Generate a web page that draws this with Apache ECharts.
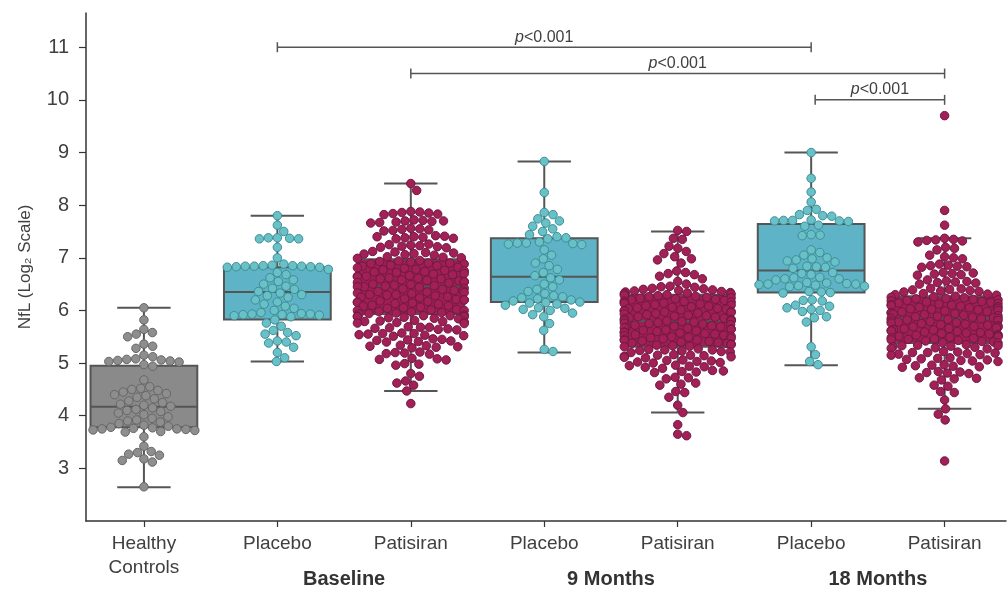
<!DOCTYPE html>
<html><head><meta charset="utf-8">
<script src="https://cdn.jsdelivr.net/npm/echarts@6/dist/echarts.min.js"></script>
<style>html,body{margin:0;padding:0;background:#fff}#c{width:1007px;height:590px}</style>
</head><body><div id="c"></div>
<script>
const categories = ['Healthy\nControls','Placebo','Patisiran','Placebo','Patisiran','Placebo','Patisiran'];
const groupLabels = ['Baseline','9 Months','18 Months'];
const groupCenters = [1.5, 3.5, 5.5];
const yTicks = [3,4,5,6,7,8,9,10,11];
const pText = 'p<0.001';
// [lower whisker, Q1, median, Q3, upper whisker]
const boxStats = [
 [2.64,3.78,4.17,4.95,6.05],
 [5.03,5.83,6.35,6.82,7.80],
 [4.47,5.93,6.45,6.97,8.41],
 [5.20,6.16,6.64,7.37,8.83],
 [4.06,5.31,5.80,6.30,7.50],
 [4.96,6.34,6.76,7.64,9.00],
 [4.13,5.38,5.85,6.27,7.37]
];
// [from category, to category, y level]
const brackets = [[1,5,11.0],[2,6,10.5],[5.03,6,10.0]];

const healthyControls = [6.05,5.82,5.64,5.58,5.55,5.5,5.36,5.32,5.28,5.15,5.12,5.08,5.07,5.06,5.05,5.04,5.03,5.02,4.97,4.94,4.68,4.55,4.52,4.5,4.48,4.45,4.42,4.4,4.38,4.35,4.32,4.28,4.25,4.22,4.2,4.18,4.15,4.12,4.1,4.08,4.05,4.02,3.98,3.95,3.92,3.9,3.88,3.85,3.82,3.8,3.78,3.77,3.76,3.75,3.75,3.74,3.73,3.72,3.7,3.69,3.6,3.42,3.32,3.3,3.27,3.25,3.18,3.15,3.12,2.65];
const baselinePlacebo = [7.8,7.62,7.5,7.38,7.38,7.37,7.36,7.36,7.2,7.0,6.88,6.86,6.85,6.85,6.84,6.84,6.84,6.83,6.83,6.82,6.82,6.78,6.72,6.68,6.62,6.58,6.55,6.5,6.46,6.42,6.4,6.36,6.33,6.3,6.28,6.25,6.2,6.16,6.12,6.08,6.04,6.0,5.96,5.94,5.93,5.93,5.92,5.92,5.91,5.9,5.88,5.82,5.76,5.7,5.62,5.58,5.55,5.52,5.42,5.4,5.38,5.3,5.2,5.1,5.03];
const baselinePatisiran = [8.41,8.28,7.88,7.87,7.86,7.85,7.84,7.83,7.82,7.72,7.71,7.7,7.7,7.69,7.68,7.67,7.66,7.56,7.55,7.54,7.53,7.52,7.51,7.42,7.41,7.4,7.4,7.39,7.38,7.37,7.36,7.26,7.25,7.24,7.23,7.22,7.21,7.2,7.19,7.12,7.11,7.1,7.09,7.08,7.07,7.06,7.05,7.02,7.01,7.0,6.99,
 6.95,6.94,6.93,6.92,6.9,6.9,6.89,6.88,6.86,6.85,6.84,6.82,6.81,6.8,6.78,6.77,6.76,6.75,6.74,6.73,6.72,6.7,6.69,6.68,6.66,6.65,6.65,6.64,6.62,6.61,6.6,6.6,6.58,6.57,6.56,6.55,6.54,6.53,6.52,6.5,6.49,6.48,6.47,6.46,6.45,6.45,6.44,6.42,6.41,6.4,6.38,6.37,6.36,6.35,6.34,6.33,6.32,6.3,6.3,6.29,6.28,6.26,6.25,6.24,6.22,6.21,6.2,6.2,6.18,6.17,6.16,6.15,6.14,6.13,6.12,6.1,6.09,6.08,6.06,6.05,6.04,6.02,6.01,6.0,6.0,5.98,5.97,5.96,5.95,5.94,5.93,
 5.91,5.9,5.9,5.89,5.88,5.88,5.87,5.86,5.85,5.84,5.81,5.8,5.79,5.79,5.78,5.77,5.76,5.75,5.69,5.68,5.68,5.67,5.66,5.65,5.64,5.63,5.57,5.56,5.56,5.55,5.54,5.53,5.52,5.51,5.46,5.45,5.44,5.43,5.42,5.41,5.4,5.34,5.33,5.32,5.31,5.3,5.29,5.21,5.2,5.19,5.18,5.17,5.09,5.08,5.07,5.06,4.99,4.98,4.96,4.8,4.75,4.66,4.62,4.58,4.47,4.23];
const m9Placebo = [8.83,8.24,7.86,7.82,7.74,7.7,7.66,7.6,7.55,7.5,7.44,7.4,7.38,7.36,7.3,7.28,7.28,7.27,7.26,7.25,7.15,7.05,6.98,6.9,6.85,6.78,6.72,6.66,6.62,6.58,6.5,6.45,6.4,6.36,6.32,6.28,6.26,6.24,6.22,6.2,6.18,6.16,6.15,6.14,6.12,6.1,6.05,6.04,6.02,6.0,5.95,5.92,5.88,5.75,5.62,5.26,5.22];
const m9Patisiran = [7.52,7.5,7.37,7.35,7.22,7.18,7.12,7.08,7.02,6.98,6.96,6.9,6.75,6.72,6.7,6.68,6.65,6.6,6.55,6.5,6.46,6.45,6.44,6.42,6.41,6.4,6.39,6.38,6.37,6.36,6.35,6.34,6.33,6.32,6.31,
 6.3,6.29,6.28,6.27,6.26,6.25,6.24,6.23,6.22,6.21,6.2,6.19,6.18,6.17,6.16,6.15,6.14,6.13,6.12,6.11,6.1,6.09,6.08,6.07,6.06,6.05,6.04,6.03,6.02,6.01,6.0,5.99,5.98,5.97,5.96,5.95,5.94,5.93,5.92,5.91,5.9,5.89,5.88,5.87,5.86,5.85,5.84,5.83,5.82,5.81,5.8,5.8,5.79,5.78,5.77,5.76,5.75,5.74,5.73,5.72,5.71,5.7,5.69,5.68,5.67,5.66,5.65,5.64,5.63,5.62,5.61,5.6,5.59,5.58,5.57,5.56,5.55,5.54,5.53,5.52,5.51,5.5,5.49,5.48,5.47,5.46,5.45,5.44,5.43,5.42,5.41,5.4,5.39,5.38,5.37,5.36,5.35,5.34,5.33,5.32,5.31,
 5.27,5.26,5.25,5.25,5.24,5.23,5.22,5.21,5.2,5.16,5.15,5.15,5.14,5.13,5.12,5.11,5.1,5.06,5.05,5.04,5.03,5.02,5.01,5.0,4.96,4.95,4.94,4.93,4.92,4.9,4.86,4.85,4.84,4.83,4.82,4.73,4.72,4.7,4.62,4.6,4.58,4.46,4.44,4.35,4.2,4.06,3.83,3.65,3.62];
const m18Placebo = [9.0,8.51,8.25,8.06,7.92,7.9,7.82,7.8,7.79,7.72,7.71,7.71,7.7,7.7,7.69,7.62,7.6,7.44,7.43,7.42,7.15,7.1,7.05,7.0,6.98,6.96,6.94,6.92,6.84,6.83,6.82,6.8,6.72,6.7,6.68,6.63,6.62,6.6,6.6,6.58,6.53,6.52,6.51,6.5,6.5,6.49,6.48,6.47,6.46,6.45,6.36,6.35,6.34,6.33,6.2,6.19,6.18,6.1,6.08,6.05,6.02,6.0,5.98,5.88,5.86,5.78,5.31,5.16,5.03,4.97];
const m18Patisiran = [9.7,7.9,7.62,7.37,7.35,7.34,7.33,7.32,7.3,7.2,7.18,7.15,7.05,7.02,7.0,6.98,6.88,6.86,6.85,6.84,6.83,6.82,6.72,6.71,6.7,6.69,6.68,6.67,6.58,6.56,6.55,6.54,6.53,6.52,6.5,6.42,6.41,6.4,6.39,6.38,6.37,6.36,6.35,6.32,6.31,6.3,6.29,
 6.27,6.26,6.25,6.24,6.23,6.22,6.21,6.2,6.19,6.18,6.17,6.16,6.15,6.14,6.13,6.12,6.11,6.1,6.09,6.08,6.07,6.06,6.05,6.04,6.03,6.02,6.01,6.0,5.99,5.98,5.97,5.96,5.95,5.94,5.93,5.92,5.91,5.9,5.89,5.88,5.87,5.86,5.85,5.85,5.84,5.83,5.82,5.81,5.8,5.79,5.78,5.77,5.76,5.75,5.74,5.73,5.72,5.71,5.7,5.69,5.68,5.67,5.66,5.65,5.64,5.63,5.62,5.61,5.6,5.59,5.58,5.57,5.56,5.55,5.54,5.53,5.52,5.51,5.5,5.49,5.48,5.47,5.46,5.45,5.44,5.43,5.42,5.41,5.4,5.39,5.38,
 5.35,5.34,5.33,5.33,5.32,5.31,5.3,5.29,5.28,5.27,5.22,5.21,5.2,5.2,5.19,5.18,5.17,5.16,5.15,5.1,5.09,5.08,5.07,5.06,5.05,5.04,5.03,4.97,4.96,4.95,4.94,4.93,4.92,4.84,4.83,4.82,4.81,4.8,4.72,4.71,4.7,4.68,4.58,4.56,4.46,4.44,4.3,4.13,4.03,3.92,3.14];

const groupValues = [healthyControls, baselinePlacebo, baselinePatisiran, m9Placebo, m9Patisiran, m18Placebo, m18Patisiran];

// styles
const FONT = '"Liberation Sans", Arial, sans-serif';
const boxFill = ['#8a8a8a','#5eb3c6','#9e1f55','#5eb3c6','#9e1f55','#5eb3c6','#9e1f55'];
const ptFill = ['#8e8e8e','#69c1c8','#a21f57','#69c1c8','#a21f57','#69c1c8','#a21f57'];
const ptEdge = ['#666666','#3f8d97','#6f1a3f','#3f8d97','#6f1a3f','#3f8d97','#6f1a3f'];
const lineCol = '#555555';
const textCol = '#404040';

const chart = echarts.init(document.getElementById('c'), null, {renderer:'canvas'});

function renderBox(params, api){
  const i = params.dataIndex;
  const x = api.value(0);
  const lo=api.value(1), q1=api.value(2), med=api.value(3), q3=api.value(4), hi=api.value(5);
  const bw = api.size([1,0])[0];
  const half = bw*0.4, wh = bw*0.2;
  const pLo=api.coord([x,lo]), pQ1=api.coord([x,q1]), pMed=api.coord([x,med]), pQ3=api.coord([x,q3]), pHi=api.coord([x,hi]);
  const cx = pLo[0];
  const ls = {stroke:lineCol, lineWidth:2};
  return {type:'group', children:[
    {type:'line', shape:{x1:cx,y1:pHi[1],x2:cx,y2:pQ3[1]}, style:ls},
    {type:'line', shape:{x1:cx,y1:pQ1[1],x2:cx,y2:pLo[1]}, style:ls},
    {type:'line', shape:{x1:cx-wh,y1:pHi[1],x2:cx+wh,y2:pHi[1]}, style:ls},
    {type:'line', shape:{x1:cx-wh,y1:pLo[1],x2:cx+wh,y2:pLo[1]}, style:ls},
    {type:'rect', shape:{x:cx-half,y:pQ3[1],width:2*half,height:pQ1[1]-pQ3[1]}, style:{fill:boxFill[i], stroke:lineCol, lineWidth:2}},
    {type:'line', shape:{x1:cx-half,y1:pMed[1],x2:cx+half,y2:pMed[1]}, style:ls}
  ]};
}
function renderBracket(params, api){
  const y = api.value(2);
  const a = api.coord([api.value(0), y]), b = api.coord([api.value(1), y]);
  const s = {stroke:lineCol, lineWidth:1.5};
  return {type:'group', children:[
    {type:'line', shape:{x1:a[0],y1:a[1],x2:b[0],y2:b[1]}, style:s},
    {type:'line', shape:{x1:a[0],y1:a[1]-5,x2:a[0],y2:a[1]+5}, style:s},
    {type:'line', shape:{x1:b[0],y1:b[1]-5,x2:b[0],y2:b[1]+5}, style:s},
    {type:'text', x:(a[0]+b[0])/2, y:a[1]-2, style:{
      text:'{i|'+pText.charAt(0)+'}{n|'+pText.slice(1)+'}',
      align:'center', verticalAlign:'bottom',
      rich:{i:{fontStyle:'italic',fontSize:16,fontFamily:FONT,fill:textCol}, n:{fontSize:16,fontFamily:FONT,fill:textCol}}
    }}
  ]};
}

const xMin = -0.434, xMax = 6.46;
const option = {
  animation:false,
  backgroundColor:'#fff',
  grid:{left:86, right:1, top:13, bottom:69, containLabel:false},
  xAxis:[{
    type:'value', min:xMin, max:xMax,
    axisLine:{show:true, onZero:false, lineStyle:{color:'#333', width:1.5}},
    splitLine:{show:false},
    axisTick:{show:true, customValues:[0,1,2,3,4,5,6], length:6, lineStyle:{color:'#333', width:1.2}},
    axisLabel:{customValues:[0,1,2,3,4,5,6], formatter:v=>categories[Math.round(v)], fontSize:19, color:textCol, fontFamily:FONT, margin:11, lineHeight:24}
  },{
    type:'value', min:xMin, max:xMax, position:'bottom', offset:40,
    axisLine:{show:false, onZero:false}, axisTick:{show:false}, splitLine:{show:false},
    axisLabel:{customValues:groupCenters, formatter:v=>groupLabels[Math.round((v-1.5)/2)], fontSize:20, fontWeight:'bold', color:'#333', fontFamily:'"Liberation Sans Narrow", "Liberation Sans", Arial, sans-serif', margin:8}
  }],
  yAxis:{
    type:'value', min:2, max:11.65,
    axisLine:{show:true, onZero:false, lineStyle:{color:'#333', width:1.5}},
    splitLine:{show:false},
    axisTick:{show:true, customValues:yTicks, length:7, lineStyle:{color:'#333', width:1.2}},
    axisLabel:{customValues:yTicks, fontSize:20, color:textCol, fontFamily:FONT, margin:17},
    name:'NfL (Log₂ Scale)', nameLocation:'middle', nameGap:52, nameRotate:90,
    nameTextStyle:{fontSize:17, color:textCol, fontFamily:FONT}
  },
  series:[
    {type:'custom', name:'boxes', renderItem:renderBox, data:boxStats.map((s,i)=>[i].concat(s)), z:2, clip:false},
    {type:'custom', name:'brackets', renderItem:renderBracket, data:brackets, z:5, clip:false}
  ]
};
chart.setOption(option);

// beeswarm layout in pixel space, converted back to axis units
const D = 9;
const pxPerUnitX = chart.convertToPixel({xAxisIndex:0}, 1) - chart.convertToPixel({xAxisIndex:0}, 0);
const maxHalf = 0.4*pxPerUnitX;
function swarm(vals){
  const pts = vals.map(v=>({v:v, y:chart.convertToPixel({yAxisIndex:0}, v), x:0}));
  pts.sort((a,b)=>a.y-b.y);
  const placed = [];
  for (const p of pts){
    const nb = placed.filter(q=>Math.abs(q.y-p.y)<D);
    const cands = [0];
    for (const q of nb){ const dx=Math.sqrt(D*D-(q.y-p.y)*(q.y-p.y)); cands.push(q.x+dx, q.x-dx); }
    cands.sort((a,b)=>Math.abs(a)-Math.abs(b));
    let best = 0;
    for (const c of cands){
      if (nb.every(q=>(q.x-c)*(q.x-c)+(q.y-p.y)*(q.y-p.y) >= D*D-0.01)){ best=c; break; }
    }
    p.x = best; placed.push(p);
  }
  pts.forEach(p=>{ if (Math.abs(p.x)>maxHalf) p.x = Math.sign(p.x)*maxHalf; });
  return pts;
}
const scatterSeries = groupValues.map((vals,i)=>({
  type:'scatter', symbol:'circle', symbolSize:8.5, z:3,
  itemStyle:{color:ptFill[i], borderColor:ptEdge[i], borderWidth:1, opacity:1},
  data: swarm(vals).map(p=>[i + p.x/pxPerUnitX, p.v])
}));
chart.setOption({series: option.series.concat(scatterSeries)});
</script>
</body></html>
